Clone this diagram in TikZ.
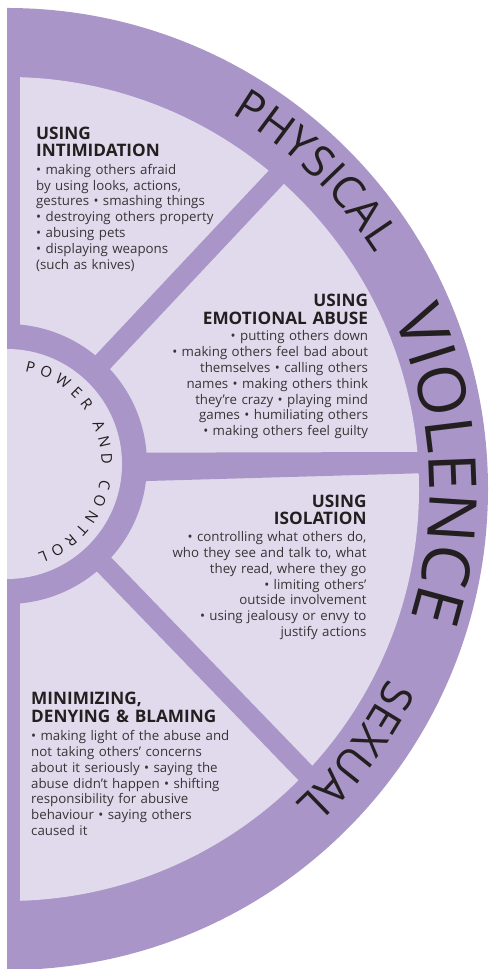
\documentclass[tikz,border=0pt]{standalone}
\usepackage{fontspec}
\setmainfont{Open Sans}
\newfontfamily\rimfont{Open Sans}
\usetikzlibrary{calc}
\definecolor{wheelpurple}{RGB}{169,149,199}
\definecolor{wheellight}{RGB}{225,218,236}
\definecolor{inkdark}{RGB}{35,31,32}
\definecolor{inkbody}{RGB}{55,52,55}
\newdimen\lw
\newcommand\physfont{\rimfont\fontsize{44}{44}\selectfont}
\newcommand\violfont{\rimfont\fontsize{66}{66}\selectfont}
\newcommand\pcfont{\rimfont\fontsize{15}{15}\selectfont}
\newcommand\measureletter[2]{%
  \pgfinterruptpicture
    \setbox0=\hbox{#1#2}%
    \global\lw=\wd0
  \endpgfinterruptpicture
  \pgfmathsetmacro\lwv{\lw}%
}
% #1 centre, #2 radius, #3 mid angle, #4 font, #5 tracking, #6 name prefix, #7 letters
\newcommand\ringword[7]{%
  \xdef\totw{0}%
  \foreach \ch in {#7}{%
    \measureletter{#4}{\ch}%
    \pgfmathsetmacro\tmpw{\totw+\lwv+#5}%
    \xdef\totw{\tmpw}%
  }%
  \pgfmathsetmacro\tmpa{#3+(\totw-#5)/2/#2*57.29578}%
  \xdef\curang{\tmpa}%
  \foreach \ch [count=\k] in {#7}{%
    \measureletter{#4}{\ch}%
    \pgfmathsetmacro\ca{\curang-(\lwv/2)/#2*57.29578}%
    \node[rimletter, rotate=\ca-90, name=#6\k] at ($(#1)+(\ca:#2)$) {#4\ch};
    \pgfmathsetmacro\tmpa{\curang-(\lwv+#5)/#2*57.29578}%
    \xdef\curang{\tmpa}%
  }%
}
\begin{document}
\begin{tikzpicture}[x=1pt,y=1pt,
  rimletter/.style={anchor=base, inner sep=0pt, text=inkdark},
  headtext/.style={inner sep=0pt, text=inkdark, text width=300pt,
    font=\fontsize{17.2}{17.6}\selectfont\bfseries},
  bodytext/.style={inner sep=0pt, text=inkbody, text width=300pt,
    font=\fontsize{13.3}{15.8}\selectfont},
  spoke/.style={draw=wheelpurple, line width=20pt}]
\useasboundingbox (0,0) rectangle (488,969);
\coordinate (C1) at (7,480);
\coordinate (C2) at (7,505);
% outer purple half disc
\begin{scope}
  \clip (7,0) rectangle (488,969);
  \fill[wheelpurple] (C1) circle[radius=481];
\end{scope}
% light sectors
\begin{scope}
  \clip (20,0) rectangle (488,969);
  \fill[wheellight] (C1) circle[radius=412];
\end{scope}
% spokes
\fill[wheelpurple] (7,484) -- (7,516) -- (430,517) -- (430,496) -- cycle;
\coordinate (su1) at ($(C2)+(46.8:120)$);
\coordinate (su2) at ($(C2)+(46.8:440)$);
\coordinate (sl1) at ($(C2)+(-46:120)$);
\coordinate (sl2) at ($(C2)+(-46:460)$);
\path[spoke] (su1) -- (su2);
\path[spoke] (sl1) -- (sl2);
% centre ring
\begin{scope}
  \clip (7,0) rectangle (488,969);
  \fill[wheelpurple] (C2) circle[radius=140];
  \fill[wheellight] (C2) circle[radius=115];
\end{scope}
% rim words
\ringword{C1}{437}{45.9}{\physfont}{0.5}{phys}{P,H,Y,S,I,C,A,L}
\ringword{C1}{423}{3.2}{\violfont}{0}{viol}{V,I,O,L,E,N,C,E}
\ringword{C1}{426}{-37}{\physfont}{0}{sex}{S,E,X,U,A,L}
\ringword{C2}{94.5}{4}{\pcfont}{5.4}{pc}{P,O,W,E,R,~,A,N,D,~,C,O,N,T,R,O,L}
% sector texts
\node[headtext, align=left, anchor=base west] (h1) at (36,829.7) {USING\\INTIMIDATION};
\node[bodytext, align=left, anchor=base west] (b1) at (36,794.7)
  {• making others afraid\\by using looks, actions,\\gestures • smashing things\\• destroying others property\\• abusing pets\\• displaying weapons\\(such as knives)};
\node[headtext, align=right, anchor=base east] (h2) at (368.3,662.3) {USING\\EMOTIONAL ABUSE};
\node[bodytext, align=right, anchor=base east] (b2) at (368.3,628)
  {• putting others down\\• making others feel bad about\\themselves • calling others\\names • making others think\\they’re crazy • playing mind\\games • humiliating others\\• making others feel guilty};
\node[headtext, align=right, anchor=base east] (h3) at (366.7,461.7) {USING\\ISOLATION};
\node[bodytext, align=right, anchor=base east] (b3) at (366.7,427.3)
  {• controlling what others do,\\who they see and talk to, what\\they read, where they go\\• limiting others’\\outside involvement\\• using jealousy or envy to\\justify actions};
\node[headtext, align=left, anchor=base west] (h4) at (31,264) {MINIMIZING,\\DENYING \& BLAMING};
\node[bodytext, align=left, anchor=base west] (b4) at (31,228.3)
  {• making light of the abuse and\\not taking others’ concerns\\about it seriously • saying the\\abuse didn’t happen • shifting\\responsibility for abusive\\behaviour • saying others\\caused it};
\end{tikzpicture}
\end{document}
